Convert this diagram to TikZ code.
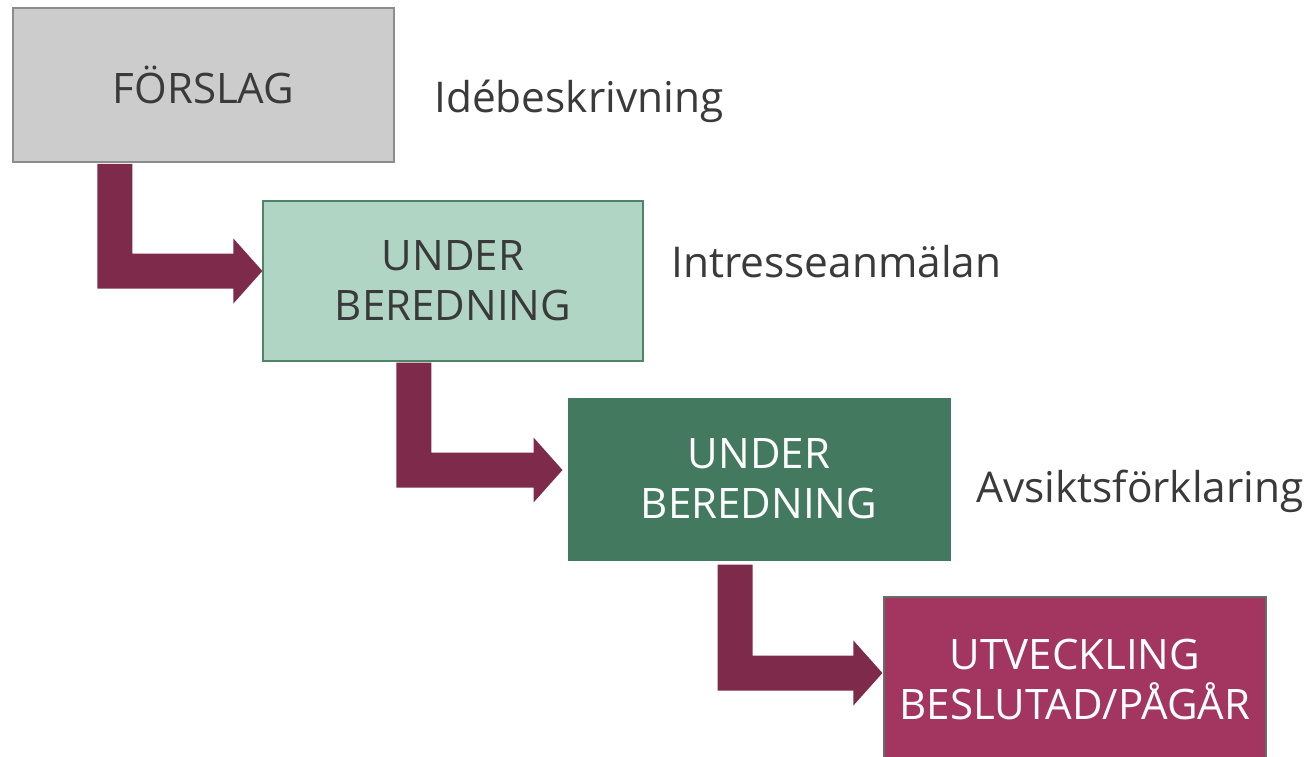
\documentclass[tikz,border=0pt]{standalone}
\usepackage{fontspec}
\setmainfont{Open Sans}
\usetikzlibrary{calc}
\definecolor{grayfill}{HTML}{CCCCCC}
\definecolor{grayline}{HTML}{8C8C8C}
\definecolor{mintfill}{HTML}{B0D5C5}
\definecolor{greenline}{HTML}{4F8468}
\definecolor{darkgreen}{HTML}{437A5F}
\definecolor{magentafill}{HTML}{A33661}
\definecolor{arrowc}{HTML}{7D2A4B}
\definecolor{txt}{HTML}{3A3A3A}
\tikzset{
  stage/.style={rectangle, align=center, inner sep=0pt,
    font=\fontsize{42}{50}\selectfont},
  sidelabel/.style={anchor=base west, inner sep=0pt, text=txt,
    font=\fontsize{42.4}{50}\selectfont},
}
\newcommand{\elbowarrow}[2]{%
  \fill[arrowc] let \p1=(#1), \p2=(#2) in
    (\x1,\y1) -- (\x1+35pt,\y1) -- (\x1+35pt,\y2+17.5pt) --
    (\x2-29pt,\y2+17.5pt) -- (\x2-29pt,\y2+32.5pt) -- (\x2,\y2) --
    (\x2-29pt,\y2-32.5pt) -- (\x2-29pt,\y2-17.5pt) -- (\x1,\y2-17.5pt) -- cycle;}
\begin{document}
\begin{tikzpicture}[x=1pt,y=-1pt]
\useasboundingbox (0,0) rectangle (1309,756);
\clip (0,0) rectangle (1309,756);
% stage boxes
\node[stage, fill=grayfill, draw=grayline, line width=1.5pt, text=txt,
  minimum width=381pt, minimum height=154pt] (a) at (203.5,85) {FÖRSLAG};
\node[stage, fill=mintfill, draw=greenline, line width=1.2pt, text=txt,
  minimum width=380pt, minimum height=160pt] (b) at (453,281) {UNDER\\BEREDNING};
\node[stage, fill=darkgreen, draw=darkgreen, line width=1pt, text=white,
  minimum width=382pt, minimum height=162pt] (c) at (759,479) {UNDER\\BEREDNING};
\node[stage, fill=magentafill, draw=greenline!70!magentafill, line width=1.2pt, text=white,
  minimum width=382pt, minimum height=180pt] (d) at (1075,687) {UTVECKLING\\BESLUTAD/PÅGÅR\\[-35pt]\mbox{}};
% side labels
\node[sidelabel] (la) at (434,112) {Idébeskrivning};
\node[sidelabel] (lb) at (671,277) {Intresseanmälan};
\node[sidelabel] (lc) at (976,502) {Avsiktsförklaring};
% arrow anchor points
\coordinate (s1) at ($(a.south west)+(85,1)$);
\coordinate (t1) at ($(b.west)+(0,-10)$);
\coordinate (s2) at ($(b.south west)+(134,1)$);
\coordinate (t2) at ($(c.west)+(-5,-9)$);
\coordinate (s3) at ($(c.south west)+(150,4)$);
\coordinate (t3) at ($(d.west)+(-1,-14)$);
\elbowarrow{s1}{t1}
\elbowarrow{s2}{t2}
\elbowarrow{s3}{t3}
\end{tikzpicture}
\end{document}
